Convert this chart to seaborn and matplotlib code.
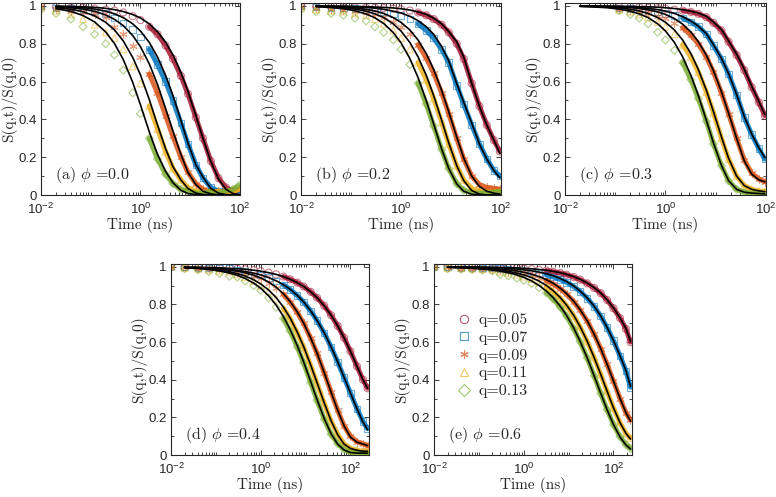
import numpy as np
import seaborn as sns
import matplotlib
matplotlib.use('Agg')
import matplotlib.pyplot as plt
from matplotlib.lines import Line2D
from matplotlib.ticker import FixedLocator, LogLocator, AutoMinorLocator, NullFormatter

# time grids (ns)
t_top = [0.01, 0.02, 0.04, 0.07, 0.12, 0.2, 0.3, 0.45, 0.7, 1.0, 1.5, 2.2, 3.2, 4.5,
         6.5, 9, 13, 18, 26, 37, 52, 72, 95]
t_bot = [0.01, 0.02, 0.04, 0.07, 0.12, 0.2, 0.3, 0.45, 0.7, 1.0, 1.5, 2.2, 3.2, 4.5,
         6.5, 9, 13, 18, 26, 37, 52, 72, 100, 140, 190, 240]

q_labels = ['q=0.05', 'q=0.07', 'q=0.09', 'q=0.11', 'q=0.13']
panel_tags = ['(a)', '(b)', '(c)', '(d)', '(e)']
phi_values = ['0.0', '0.2', '0.3', '0.4', '0.6']

# S(q,t)/S(q,0), rows: q=0.05, 0.07, 0.09, 0.11, 0.13
data_a = [
    [1.0, 0.995, 0.99, 0.99, 0.985, 0.98, 0.975, 0.965, 0.945, 0.925, 0.89, 0.85, 0.79, 0.72, 0.63, 0.535, 0.41, 0.30, 0.18, 0.09, 0.04, 0.02, 0.02],
    [1.0, 0.99, 0.985, 0.98, 0.975, 0.96, 0.935, 0.91, 0.875, 0.835, 0.77, 0.69, 0.60, 0.50, 0.38, 0.27, 0.16, 0.09, 0.04, 0.02, 0.015, 0.02, 0.02],
    [1.0, 0.985, 0.975, 0.965, 0.955, 0.94, 0.89, 0.85, 0.79, 0.73, 0.64, 0.54, 0.42, 0.31, 0.20, 0.12, 0.06, 0.03, 0.015, 0.02, 0.01, 0.02, 0.03],
    [0.99, 0.975, 0.955, 0.93, 0.90, 0.86, 0.83, 0.77, 0.68, 0.59, 0.47, 0.35, 0.23, 0.14, 0.08, 0.04, 0.02, 0.015, 0.01, 0.02, 0.01, 0.02, 0.03],
    [0.98, 0.96, 0.93, 0.89, 0.85, 0.80, 0.74, 0.66, 0.54, 0.43, 0.30, 0.19, 0.11, 0.06, 0.03, 0.02, 0.01, 0.01, 0.02, 0.01, 0.02, 0.03, 0.05],
]
fit_a = [
    [None, 0.999, 0.997, 0.995, 0.992, 0.987, 0.980, 0.970, 0.954, 0.936, 0.905, 0.864, 0.808, 0.741, 0.648, 0.549, 0.420, 0.301, 0.177, 0.085, 0.031, 0.008, 0.002],
    [None, 0.997, 0.994, 0.990, 0.983, 0.972, 0.958, 0.938, 0.905, 0.867, 0.807, 0.730, 0.633, 0.526, 0.395, 0.276, 0.160, 0.095, 0.035, 0.010, 0.002, 0.0, 0.0],
    [None, 0.995, 0.990, 0.983, 0.971, 0.952, 0.929, 0.896, 0.843, 0.784, 0.694, 0.585, 0.458, 0.338, 0.215, 0.120, 0.055, 0.020, 0.006, 0.001, 0.0, 0.0, 0.0],
    [None, 0.991, 0.982, 0.969, 0.947, 0.913, 0.873, 0.815, 0.727, 0.635, 0.506, 0.370, 0.245, 0.150, 0.080, 0.035, 0.010, 0.003, 0.0, 0.0, 0.0, 0.0, 0.0],
    [None, 0.985, 0.971, 0.949, 0.915, 0.862, 0.801, 0.717, 0.595, 0.477, 0.335, 0.215, 0.125, 0.065, 0.025, 0.008, 0.002, 0.0, 0.0, 0.0, 0.0, 0.0, 0.0],
]

data_b = [
    [1.0, 0.998, 0.995, 0.993, 0.992, 0.99, 0.99, 0.988, 0.985, 0.982, 0.975, 0.965, 0.95, 0.93, 0.90, 0.86, 0.80, 0.72, 0.59, 0.47, 0.37, 0.29, 0.23],
    [1.0, 0.995, 0.99, 0.988, 0.985, 0.98, 0.975, 0.968, 0.958, 0.948, 0.93, 0.905, 0.87, 0.83, 0.77, 0.70, 0.58, 0.48, 0.37, 0.27, 0.19, 0.13, 0.10],
    [1.0, 0.99, 0.985, 0.98, 0.975, 0.97, 0.955, 0.94, 0.915, 0.89, 0.85, 0.795, 0.725, 0.645, 0.54, 0.43, 0.30, 0.19, 0.10, 0.055, 0.04, 0.035, 0.03],
    [0.99, 0.98, 0.975, 0.97, 0.96, 0.95, 0.93, 0.905, 0.87, 0.83, 0.77, 0.70, 0.61, 0.51, 0.385, 0.27, 0.155, 0.08, 0.035, 0.02, 0.015, 0.015, 0.02],
    [0.98, 0.97, 0.96, 0.95, 0.935, 0.92, 0.89, 0.86, 0.82, 0.77, 0.69, 0.59, 0.48, 0.365, 0.24, 0.14, 0.06, 0.025, 0.01, 0.01, 0.01, 0.015, 0.02],
]
fit_b = [
    [None, 0.999, 0.999, 0.998, 0.997, 0.996, 0.994, 0.992, 0.989, 0.985, 0.978, 0.968, 0.955, 0.935, 0.905, 0.865, 0.81, 0.73, 0.59, 0.47, 0.37, 0.29, 0.22],
    [None, 0.999, 0.998, 0.997, 0.995, 0.992, 0.988, 0.982, 0.972, 0.962, 0.945, 0.922, 0.89, 0.85, 0.785, 0.71, 0.59, 0.49, 0.38, 0.27, 0.19, 0.13, 0.09],
    [None, 0.998, 0.996, 0.994, 0.989, 0.982, 0.973, 0.960, 0.938, 0.913, 0.873, 0.819, 0.748, 0.664, 0.554, 0.441, 0.307, 0.195, 0.10, 0.045, 0.02, 0.01, 0.005],
    [None, 0.997, 0.994, 0.990, 0.983, 0.972, 0.958, 0.938, 0.905, 0.867, 0.807, 0.730, 0.633, 0.526, 0.395, 0.276, 0.156, 0.076, 0.024, 0.005, 0.0, 0.0, 0.0],
    [None, 0.996, 0.991, 0.985, 0.974, 0.957, 0.937, 0.907, 0.859, 0.805, 0.722, 0.620, 0.499, 0.376, 0.243, 0.141, 0.059, 0.020, 0.004, 0.0, 0.0, 0.0, 0.0],
]

data_c = [
    [None, None, None, None, 0.995, 0.995, 0.993, 0.99, 0.987, 0.985, 0.98, 0.975, 0.968, 0.958, 0.94, 0.91, 0.87, 0.81, 0.74, 0.66, 0.57, 0.49, 0.42],
    [None, None, None, None, 0.99, 0.985, 0.98, 0.975, 0.968, 0.96, 0.948, 0.935, 0.915, 0.89, 0.85, 0.79, 0.72, 0.64, 0.53, 0.41, 0.32, 0.245, 0.19],
    [None, None, None, None, 0.985, 0.98, 0.972, 0.962, 0.948, 0.935, 0.912, 0.885, 0.845, 0.80, 0.73, 0.65, 0.54, 0.43, 0.30, 0.185, 0.115, 0.085, 0.07],
    [None, None, None, None, 0.98, 0.97, 0.955, 0.94, 0.915, 0.89, 0.85, 0.795, 0.73, 0.65, 0.545, 0.435, 0.30, 0.19, 0.10, 0.05, 0.03, 0.022, 0.018],
    [None, None, None, None, 0.975, 0.955, 0.935, 0.905, 0.86, 0.82, 0.765, 0.70, 0.61, 0.51, 0.39, 0.27, 0.155, 0.075, 0.03, 0.015, 0.01, 0.008, 0.006],
]
fit_c = [
    [None, 0.999, 0.999, 0.998, 0.998, 0.997, 0.996, 0.995, 0.993, 0.99, 0.986, 0.98, 0.972, 0.962, 0.945, 0.915, 0.875, 0.815, 0.745, 0.665, 0.575, 0.495, 0.425],
    [None, 0.999, 0.998, 0.997, 0.996, 0.994, 0.991, 0.987, 0.98, 0.972, 0.96, 0.943, 0.92, 0.893, 0.853, 0.795, 0.722, 0.642, 0.532, 0.415, 0.322, 0.25, 0.198],
    [None, 0.999, 0.998, 0.997, 0.994, 0.991, 0.986, 0.979, 0.968, 0.955, 0.933, 0.903, 0.862, 0.811, 0.739, 0.658, 0.546, 0.433, 0.30, 0.18, 0.11, 0.08, 0.07],
    [None, 0.998, 0.996, 0.994, 0.989, 0.982, 0.973, 0.960, 0.938, 0.913, 0.873, 0.819, 0.748, 0.664, 0.554, 0.441, 0.307, 0.195, 0.10, 0.05, 0.03, 0.022, 0.018],
    [None, 0.997, 0.994, 0.990, 0.983, 0.972, 0.958, 0.938, 0.905, 0.867, 0.807, 0.730, 0.633, 0.526, 0.395, 0.276, 0.156, 0.076, 0.03, 0.015, 0.01, 0.008, 0.006],
]

data_d = [
    [1.0, 0.999, 0.998, 0.997, 0.996, 0.995, 0.99, 0.987, 0.982, 0.977, 0.969, 0.96, 0.948, 0.934, 0.916, 0.896, 0.867, 0.836, 0.793, 0.743, 0.686, 0.623, 0.551, 0.471, 0.40, 0.355],
    [1.0, 0.998, 0.997, 0.995, 0.993, 0.99, 0.98, 0.974, 0.965, 0.956, 0.942, 0.925, 0.904, 0.88, 0.848, 0.813, 0.765, 0.714, 0.648, 0.574, 0.494, 0.412, 0.329, 0.245, 0.178, 0.14],
    [1.0, 0.997, 0.995, 0.993, 0.99, 0.985, 0.975, 0.965, 0.952, 0.938, 0.916, 0.889, 0.854, 0.813, 0.758, 0.70, 0.62, 0.54, 0.437, 0.334, 0.237, 0.155, 0.10, 0.07, 0.06, 0.05],
    [1.0, 0.995, 0.99, 0.985, 0.98, 0.975, 0.96, 0.945, 0.925, 0.9, 0.87, 0.83, 0.78, 0.725, 0.65, 0.575, 0.475, 0.38, 0.275, 0.18, 0.11, 0.06, 0.035, 0.025, 0.02, 0.02],
    [1.0, 0.99, 0.985, 0.975, 0.965, 0.95, 0.945, 0.925, 0.9, 0.875, 0.835, 0.785, 0.725, 0.66, 0.575, 0.49, 0.385, 0.29, 0.19, 0.11, 0.06, 0.03, 0.015, 0.01, 0.01, 0.01],
]
fit_d = [
    [None, 0.998, 0.998, 0.996, 0.995, 0.992, 0.990, 0.987, 0.982, 0.977, 0.969, 0.960, 0.948, 0.934, 0.916, 0.896, 0.867, 0.836, 0.793, 0.743, 0.686, 0.623, 0.551, 0.471, 0.40, 0.355],
    [None, 0.997, 0.995, 0.993, 0.990, 0.986, 0.981, 0.975, 0.966, 0.957, 0.943, 0.926, 0.905, 0.881, 0.849, 0.814, 0.766, 0.715, 0.649, 0.575, 0.495, 0.413, 0.329, 0.245, 0.175, 0.135],
    [None, 0.997, 0.995, 0.993, 0.989, 0.983, 0.977, 0.968, 0.955, 0.941, 0.919, 0.892, 0.857, 0.816, 0.761, 0.702, 0.622, 0.541, 0.438, 0.334, 0.237, 0.155, 0.095, 0.068, 0.058, 0.05],
    [None, 0.996, 0.993, 0.989, 0.983, 0.974, 0.964, 0.951, 0.931, 0.909, 0.877, 0.837, 0.786, 0.729, 0.654, 0.577, 0.478, 0.384, 0.277, 0.182, 0.107, 0.058, 0.035, 0.025, 0.02, 0.02],
    [None, 0.995, 0.991, 0.986, 0.978, 0.967, 0.955, 0.938, 0.913, 0.886, 0.846, 0.797, 0.736, 0.668, 0.582, 0.496, 0.390, 0.294, 0.194, 0.113, 0.057, 0.027, 0.013, 0.01, 0.01, 0.01],
]

data_e = [
    [1.0, 1.0, 0.998, 0.998, 0.997, 0.997, 0.996, 0.995, 0.993, 0.991, 0.988, 0.984, 0.98, 0.974, 0.967, 0.958, 0.946, 0.932, 0.912, 0.888, 0.86, 0.824, 0.78, 0.728, 0.67, 0.60],
    [1.0, 0.998, 0.997, 0.996, 0.995, 0.994, 0.99, 0.987, 0.983, 0.979, 0.973, 0.966, 0.957, 0.947, 0.933, 0.918, 0.895, 0.87, 0.833, 0.79, 0.738, 0.678, 0.608, 0.527, 0.447, 0.36],
    [1.0, 0.997, 0.995, 0.994, 0.992, 0.99, 0.984, 0.979, 0.972, 0.965, 0.955, 0.943, 0.927, 0.909, 0.884, 0.855, 0.815, 0.771, 0.712, 0.642, 0.565, 0.482, 0.393, 0.30, 0.225, 0.185],
    [1.0, 0.995, 0.993, 0.991, 0.988, 0.985, 0.975, 0.968, 0.958, 0.948, 0.935, 0.917, 0.895, 0.869, 0.833, 0.794, 0.74, 0.681, 0.604, 0.518, 0.428, 0.339, 0.25, 0.172, 0.115, 0.09],
    [0.995, 0.99, 0.988, 0.985, 0.982, 0.978, 0.96, 0.952, 0.94, 0.928, 0.911, 0.889, 0.862, 0.83, 0.786, 0.738, 0.672, 0.603, 0.515, 0.421, 0.327, 0.241, 0.162, 0.097, 0.055, 0.035],
]
fit_e = [
    [None, 1.0, 0.999, 0.999, 0.998, 0.998, 0.997, 0.996, 0.994, 0.992, 0.990, 0.986, 0.982, 0.976, 0.969, 0.960, 0.948, 0.934, 0.914, 0.890, 0.861, 0.825, 0.782, 0.729, 0.672, 0.605],
    [None, 0.999, 0.999, 0.998, 0.997, 0.995, 0.994, 0.991, 0.988, 0.984, 0.979, 0.972, 0.963, 0.953, 0.938, 0.922, 0.898, 0.872, 0.835, 0.791, 0.739, 0.679, 0.609, 0.528, 0.449, 0.365],
    [None, 0.998, 0.997, 0.996, 0.994, 0.991, 0.988, 0.984, 0.978, 0.971, 0.961, 0.948, 0.932, 0.913, 0.887, 0.858, 0.817, 0.773, 0.713, 0.643, 0.566, 0.483, 0.394, 0.301, 0.225, 0.18],
    [None, 0.998, 0.996, 0.994, 0.991, 0.987, 0.982, 0.976, 0.967, 0.957, 0.943, 0.924, 0.901, 0.874, 0.837, 0.797, 0.742, 0.683, 0.605, 0.519, 0.429, 0.340, 0.251, 0.172, 0.115, 0.085],
    [None, 0.997, 0.995, 0.992, 0.988, 0.983, 0.977, 0.969, 0.957, 0.944, 0.925, 0.901, 0.871, 0.837, 0.791, 0.742, 0.675, 0.605, 0.516, 0.422, 0.328, 0.241, 0.162, 0.096, 0.053, 0.032],
]

# styling
colors = ['#A2142F', '#0072BD', '#D95319', '#EDB120', '#77AC30']
markers = ['o', 's', (6, 2, 0), '^', 'D']
marker_sizes = [26, 22, 30, 24, 16]
serif = 'cmr10'

sns.set_theme(style='ticks')
plt.rcParams['font.family'] = ['Liberation Sans', 'DejaVu Sans']
plt.rcParams['mathtext.fontset'] = 'cm'
plt.rcParams['axes.unicode_minus'] = True

fig = plt.figure(figsize=(7.76, 4.97), dpi=100)

panels = [
    ([0.0528, 0.6076, 0.2564, 0.3863], t_top, data_a, fit_a, 100, 1.5),
    ([0.3879, 0.6076, 0.2577, 0.3863], t_top, data_b, fit_b, 100, 2.2),
    ([0.7281, 0.6076, 0.2590, 0.3863], t_top, data_c, fit_c, 100, 2.2),
    ([0.2204, 0.0845, 0.2552, 0.3843], t_bot, data_d, fit_d, 260, 3.2),
    ([0.5593, 0.0845, 0.2552, 0.3843], t_bot, data_e, fit_e, 260, 3.2),
]

for k, (rect, times, data, fits, xmax, band_start) in enumerate(panels):
    ax = fig.add_axes(rect)
    t = np.array(times, dtype=float)
    for i in range(5):
        y = np.array(data[i], dtype=float)
        ok = ~np.isnan(y)
        if isinstance(markers[i], tuple):
            style = dict(color=colors[i])
        else:
            style = dict(color=colors[i], facecolor='none', edgecolor=colors[i])
        sns.scatterplot(x=t[ok], y=y[ok], marker=markers[i], s=marker_sizes[i],
                        linewidth=0.8, alpha=0.55, ax=ax, zorder=2, **style)
        band = ok & (t >= band_start)
        sns.lineplot(x=t[band], y=y[band], color=colors[i], lw=3.6, alpha=0.85,
                     estimator=None, sort=False, ax=ax, zorder=3)
    for i in range(5):
        f = np.array(fits[i], dtype=float)
        ok = ~np.isnan(f)
        sns.lineplot(x=t[ok], y=f[ok], color='black', lw=1.2,
                     estimator=None, sort=False, ax=ax, zorder=4)

    ax.set_xscale('log')
    ax.set_xlim(0.01, xmax)
    ax.set_ylim(0, 1.015)
    ax.xaxis.set_major_locator(FixedLocator([1e-2, 1e0, 1e2]))
    ax.xaxis.set_minor_locator(LogLocator(base=10, subs=np.arange(1, 10), numticks=20))
    ax.xaxis.set_minor_formatter(NullFormatter())
    ax.set_yticks([0, 0.2, 0.4, 0.6, 0.8, 1.0])
    ax.set_yticklabels(['0', '0.2', '0.4', '0.6', '0.8', '1'])
    ax.yaxis.set_minor_locator(AutoMinorLocator(2))
    ax.tick_params(which='both', direction='in', top=True, right=True,
                   labelsize=9.5, width=0.6, colors='#262626')
    ax.tick_params(which='major', length=3.5)
    ax.tick_params(axis='x', which='major', pad=5)
    ax.tick_params(axis='y', which='major', pad=3)
    ax.tick_params(which='minor', length=2)
    for sp in ax.spines.values():
        sp.set_linewidth(0.8)
        sp.set_color('#262626')
    ax.set_xlabel('Time (ns)', fontsize=11, labelpad=0, family=serif)
    ax.set_ylabel('S(q,t)/S(q,0)', fontsize=11, labelpad=1, family=serif)
    ax.text(0.07, 0.105, panel_tags[k] + r' $\phi$ =' + phi_values[k],
            transform=ax.transAxes, ha='left', va='center', fontsize=11.5,
            family=serif, color='#262626')

    if k == 4:
        handles = [Line2D([], [], marker=markers[i], ls='none', mfc='none', mec=colors[i],
                          color=colors[i], mew=0.8, ms=6, alpha=0.7) for i in range(5)]
        ax.legend(handles, q_labels, loc='center left',
                  bbox_to_anchor=(0.03, 0.52), frameon=False,
                  prop={'family': serif, 'size': 11.5},
                  handletextpad=0.3, labelspacing=0.22, handlelength=1.2)

fig.savefig('out.png', dpi=100)
